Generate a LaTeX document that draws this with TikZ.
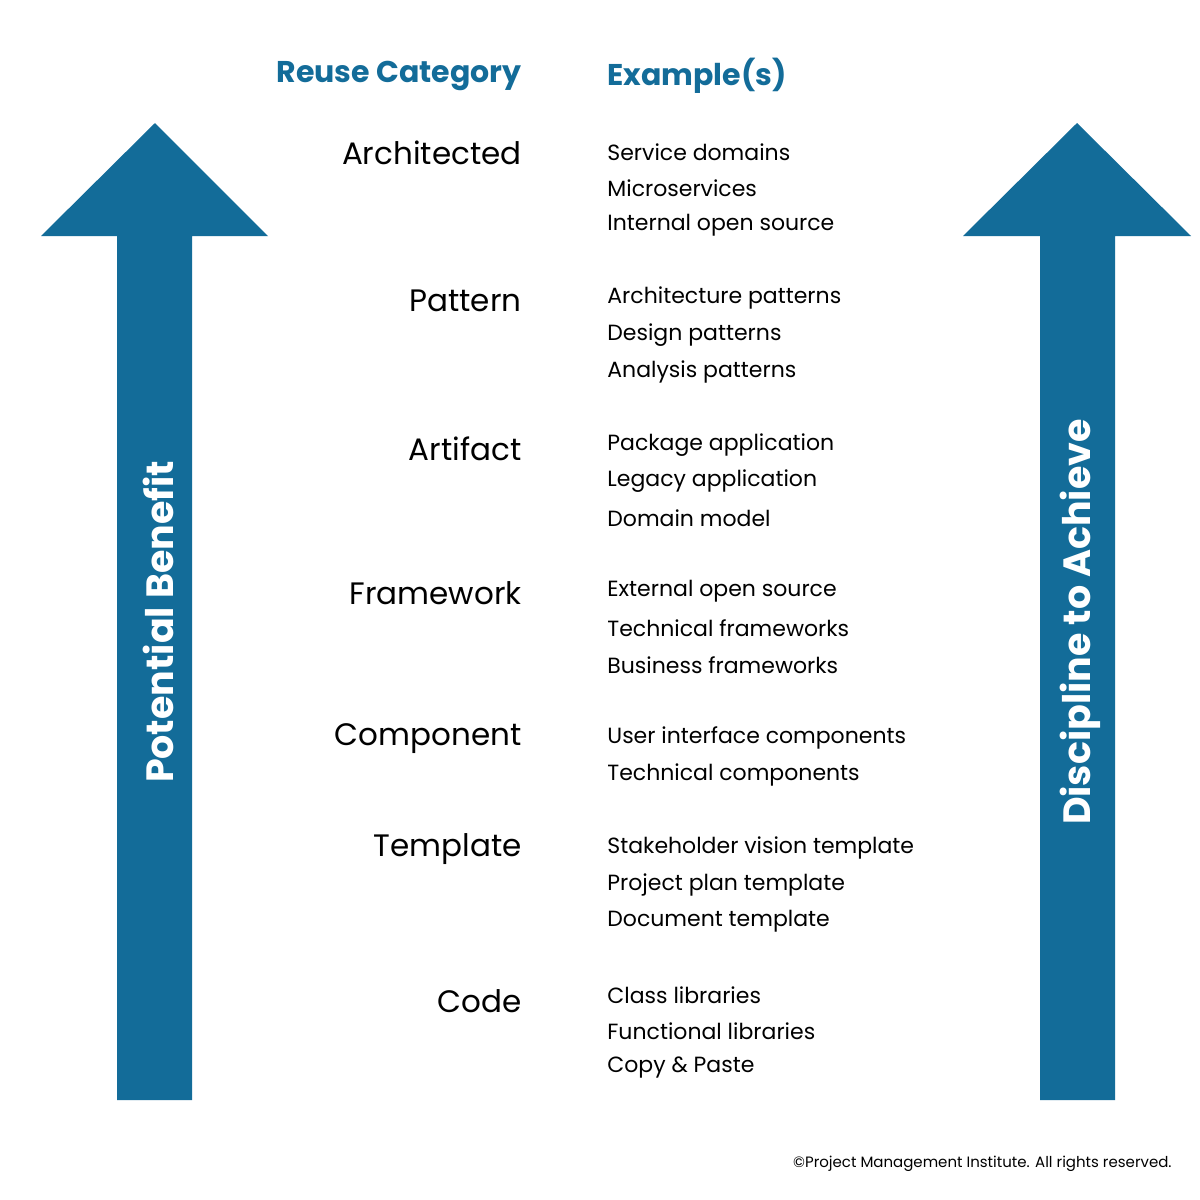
\documentclass[tikz,border=0pt]{standalone}
\usepackage{fontspec}
\setmainfont{Poppins}
\definecolor{pmiblue}{HTML}{136C99}
\begin{document}
\begin{tikzpicture}[x=0.5pt,y=-0.5pt,
  arr/.style={fill=pmiblue,draw=none},
  hdr/.style={font=\fontsize{15}{18}\selectfont\bfseries,text=pmiblue,inner sep=0},
  cat/.style={font=\fontsize{15.5}{18}\selectfont,anchor=east,inner sep=0},
  ex/.style={font=\fontsize{11}{13}\selectfont,anchor=west,inner sep=0},
  vlab/.style={font=\fontsize{19}{22}\selectfont\bfseries,text=white,rotate=90,inner sep=0}]
\useasboundingbox (0,0) rectangle (1200,1200);
\fill[white] (0,0) rectangle (1200,1200);
\fill[arr] (117,1100) -- (117,236) -- (41,236) -- (155,123) -- (268,236) -- (192,236) -- (192,1100) -- cycle;
\fill[arr] (1040,1100) -- (1040,236) -- (963,236) -- (1077,123) -- (1191,236) -- (1115,236) -- (1115,1100) -- cycle;
\node[vlab] (pb) at (158,622) {Potential Benefit};
\node[vlab] (dta) at (1080,622) {Discipline to Achieve};
\node[hdr,anchor=east] (hc) at (522,76) {Reuse Category};
\node[hdr,anchor=west] (he) at (607,76) {Example(s)};
\foreach \t/\y [count=\i] in {Architected/153,Pattern/301,Artifact/449,Framework/593,Component/739,Template/849,Code/1001}
  \node[cat] (c\i) at (522,\y) {\t};
\foreach \t/\y [count=\i] in {Service domains/152,Microservices/188,Internal open source/225,
  Architecture patterns/298,Design patterns/335,Analysis patterns/372,
  Package application/445,Legacy application/481,Domain model/518,
  External open source/591,Technical frameworks/628,Business frameworks/665,
  User interface components/738,Technical components/775,
  Stakeholder vision template/848,Project plan template/885,Document template/921,
  Class libraries/995,Functional libraries/1031,Copy \& Paste/1068}
  \node[ex] (e\i) at (607,\y) {\t};
\node[font=\fontsize{7.5}{9}\selectfont,anchor=east,inner sep=0] (cr) at (1172,1164) {©Project Management Institute. All rights reserved.};
\end{tikzpicture}
\end{document}
